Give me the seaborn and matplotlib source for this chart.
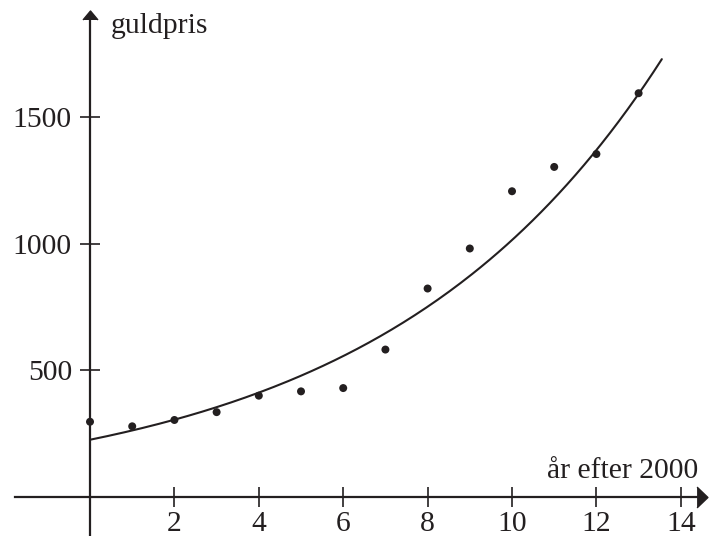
import numpy as np
import pandas as pd
import seaborn as sns
import matplotlib.pyplot as plt

# gold price, years after 2000
years = [0, 1, 2, 3, 4, 5, 6, 7, 8, 9, 10, 11, 12, 13]
price = [297, 279, 304, 335, 400, 417, 430, 582, 823, 981, 1207, 1303, 1354, 1594]

# exponential model y = a * b^x
a = 226
b = 1.162
x_end = 13.55

xticks = [2, 4, 6, 8, 10, 12, 14]
yticks = [500, 1000, 1500]

sns.set_style("white")
plt.rcParams['font.family'] = ['Liberation Serif', 'DejaVu Serif']
ink = "#231f20"

fig = plt.figure(figsize=(7.09, 5.36), dpi=100)
ax = fig.add_axes([0, 0, 1, 1])

points = pd.DataFrame({"x": years, "y": price})
xs = np.linspace(0, x_end, 200)
model = pd.DataFrame({"x": xs, "y": a * b ** xs})

sns.lineplot(data=model, x="x", y="y", ax=ax, color=ink, linewidth=1.5)
sns.scatterplot(data=points, x="x", y="y", ax=ax, color=ink, s=33,
                edgecolor="none", zorder=3)

ax.set_xlim(-2.133, 14.668)
ax.set_ylim(-154, 1962)

for side in ["top", "right"]:
    ax.spines[side].set_visible(False)
ax.spines["left"].set_position(("data", 0))
ax.spines["bottom"].set_position(("data", 0))
ax.spines["left"].set_bounds(-154, 1895)
ax.spines["bottom"].set_bounds(-1.78, 14.45)
for side in ["left", "bottom"]:
    ax.spines[side].set_color(ink)
    ax.spines[side].set_linewidth(1.6)

# arrowheads
ax.plot([14.51], [0], marker=[(-0.52, 1), (0.52, 0), (-0.52, -1)],
        markersize=15, color=ink, clip_on=False)
ax.plot([0], [1901], marker=[(-1, -0.6), (0, 0.6), (1, -0.6)],
        markersize=10.8, color=ink, clip_on=False)

ax.set_xticks(xticks)
ax.set_yticks(yticks)
ax.set_xticklabels([str(t) for t in xticks])
ax.set_yticklabels([str(t) for t in yticks])
ax.tick_params(axis="both", direction="inout", length=14, width=1.2,
               color=ink, labelcolor=ink, labelsize=21.3)
ax.tick_params(axis="x", pad=3)
ax.tick_params(axis="y", pad=6)
ax.tick_params(left=True, bottom=True)
ax.set_xlabel("")
ax.set_ylabel("")

ax.text(0.49, 1832, "guldpris", fontsize=21.3, color=ink,
        ha="left", va="baseline")
ax.text(14.41, 75, "år efter 2000", fontsize=21.3, color=ink,
        ha="right", va="baseline")

fig.savefig("out.png", dpi=100)
